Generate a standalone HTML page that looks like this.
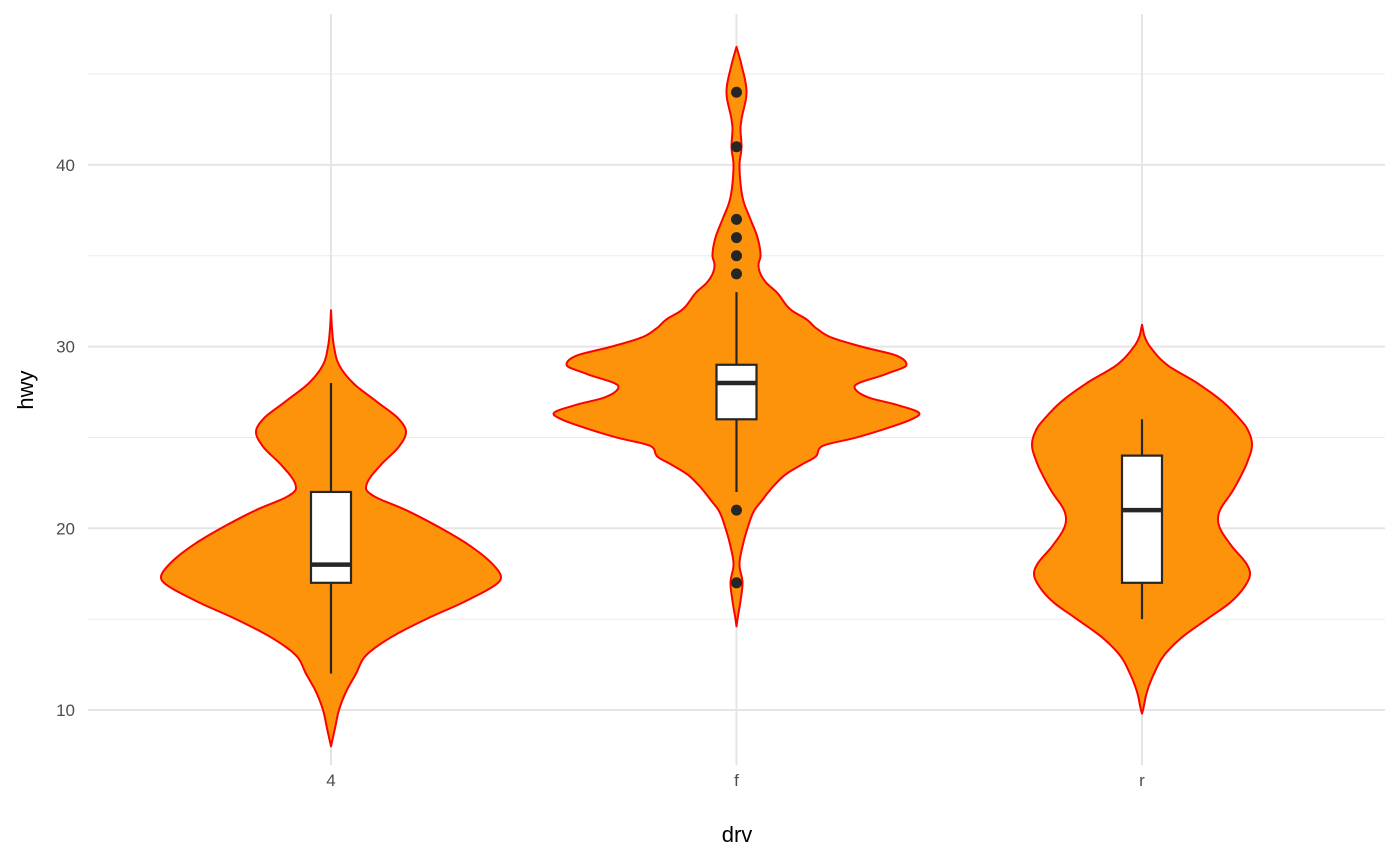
<!DOCTYPE html>
<html><head><meta charset="utf-8"><style>
body{margin:0;background:#fff;}
svg{display:block;font-family:"Liberation Sans",Arial,sans-serif;}
</style></head><body>
<svg id="chart" width="1400" height="865"></svg>
<script>
const categories=["4","f","r"];
const yTicks=[10,20,30,40];
const yMinor=[15,25,35,45];
const violin4=[[32,0],[31,1],[30,3],[29,8],[28,22],[27,45],[26,68],[25.3,75],[24.5,68],[23.5,50],[22.6,37],[22.2,35],[21.8,42],[21,75],[20,110],[19,140],[18,162],[17.3,170],[17,167],[16,135],[15,95],[14,60],[13,35],[12,25],[11,15],[10,8],[9,4],[8.5,2],[8,0]];
const violinF=[[46.5,0],[45.5,5],[44,10],[42.5,5],[42,4],[41,5],[40,3],[39,4],[38,7],[37,14],[36,21],[35,24],[34.5,22],[34,24],[33.5,30],[33,40],[32,55],[31.5,70],[31,80],[30.5,95],[30,125],[29.5,160],[29,170],[28.5,150],[27.8,118],[27.2,132],[26.8,160],[26.3,183],[26,175],[25.5,150],[25,120],[24.5,85],[24,80],[23.5,65],[23,50],[22.5,40],[22,32],[21.5,25],[21,18],[20,11],[19,6],[18,3],[17,6],[16,4],[15,1],[14.6,0]];
const violinR=[[31.2,0],[30.5,3],[30,8],[29,25],[28,55],[27,80],[26,98],[25.5,105],[24.6,110],[23.6,105],[23,100],[22,90],[21,78],[20.5,76],[20,78],[19,90],[18,105],[17.5,108],[17,105],[16,90],[15,65],[14,40],[13,22],[12,12],[11,5],[10,1],[9.8,0]];
const violins=[violin4,violinF,violinR];
const boxLow=[12,22,15];
const boxQ1=[17,26,17];
const boxMed=[18,28,21];
const boxQ3=[22,29,24];
const boxHigh=[28,33,26];
const outliersF=[44,41,37,36,35,34,21,17];

const NS="http://www.w3.org/2000/svg";
const svg=document.getElementById('chart');
const px0=88,px1=1385,py0=14,py1=765;
function y(v){return 710-(v-10)*18.17;}
function x(i){return 331+i*405.5;}
function el(t,a,p){const e=document.createElementNS(NS,t);for(const k in a)e.setAttribute(k,a[k]);(p||svg).appendChild(e);return e;}
yMinor.forEach(v=>{const l=el('line',{x1:px0,x2:px1,y1:y(v),y2:y(v),stroke:'#ebebeb','stroke-width':1});

});
yTicks.forEach(v=>{const l=el('line',{x1:px0,x2:px1,y1:y(v),y2:y(v),stroke:'#e5e5e5','stroke-width':2});


const t=el('text',{x:75,y:y(v)+6,'text-anchor':'end','font-size':17,fill:'#4d4d4d'});t.textContent=v;

});
categories.forEach((c,i)=>{const l=el('line',{x1:x(i),x2:x(i),y1:py0,y2:py1,stroke:'#e5e5e5','stroke-width':2});


const t=el('text',{x:x(i),y:786,'text-anchor':'middle','font-size':17,fill:'#4d4d4d'});t.textContent=c;

});
function monotone(pts){
  const p=pts.slice().sort((a,b)=>a[0]-b[0]);const n=p.length;
  const xs=p.map(q=>q[0]),ys=p.map(q=>q[1]);const d=[],m=[];
  for(let i=0;i<n-1;i++)d.push((ys[i+1]-ys[i])/(xs[i+1]-xs[i]));
  m[0]=d[0];m[n-1]=d[n-2];
  for(let i=1;i<n-1;i++){m[i]=(d[i-1]*d[i]<=0)?0:(d[i-1]+d[i])/2;}
  for(let i=0;i<n-1;i++){if(d[i]===0){m[i]=0;m[i+1]=0;continue;}
    const a=m[i]/d[i],b=m[i+1]/d[i],s=a*a+b*b;if(s>9){const t=3/Math.sqrt(s);m[i]=t*a*d[i];m[i+1]=t*b*d[i];}}
  return function(v){let i=0;while(i<n-2&&v>xs[i+1])i++;
    const h=xs[i+1]-xs[i],t=(v-xs[i])/h,t2=t*t,t3=t2*t;
    return (2*t3-3*t2+1)*ys[i]+(t3-2*t2+t)*h*m[i]+(-2*t3+3*t2)*ys[i+1]+(t3-t2)*h*m[i+1];};
}
violins.forEach((v,i)=>{const cx=x(i);
const f=monotone(v);const lo=Math.min(...v.map(q=>q[0])),hi=Math.max(...v.map(q=>q[0]));
const right=[],left=[];const steps=Math.ceil((hi-lo)*18.17);
for(let k=0;k<=steps;k++){const val=hi-(hi-lo)*k/steps;const w=Math.max(0,f(val));right.push([cx+w,y(val)]);left.unshift([cx-w,y(val)]);}
const d='M'+right.concat(left).map(q=>q[0].toFixed(2)+','+q[1].toFixed(2)).join('L')+'Z';
const p=el('path',{d:d,fill:'#fd930a',stroke:'#ff0000','stroke-width':2,'stroke-linejoin':'round'});


const g=el('g',{});


el('line',{x1:cx,x2:cx,y1:y(boxHigh[i]),y2:y(boxQ3[i]),stroke:'#262626','stroke-width':2.2},g);
el('line',{x1:cx,x2:cx,y1:y(boxQ1[i]),y2:y(boxLow[i]),stroke:'#262626','stroke-width':2.2},g);
el('rect',{x:cx-20,y:y(boxQ3[i]),width:40,height:y(boxQ1[i])-y(boxQ3[i]),fill:'#fff',stroke:'#262626','stroke-width':2.2},g);
el('line',{x1:cx-20,x2:cx+20,y1:y(boxMed[i]),y2:y(boxMed[i]),stroke:'#262626','stroke-width':4.5},g);
});
outliersF.forEach(v=>{const c=el('circle',{cx:x(1),cy:y(v),r:5.5,fill:'#262626'});

});
const xt=el('text',{x:737,y:842,'text-anchor':'middle','font-size':22,fill:'#000'});xt.textContent='drv';


const yt=el('text',{x:33,y:390,'text-anchor':'middle','font-size':22,fill:'#000',transform:'rotate(-90 33 390)'});yt.textContent='hwy';


</script>
</body></html>
